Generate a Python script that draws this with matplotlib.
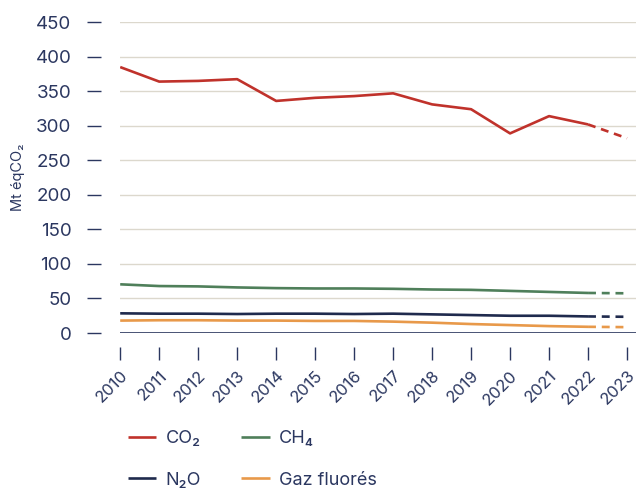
import matplotlib.pyplot as plt

years = list(range(2010, 2024))
co2 = [385, 364, 365, 367.5, 336, 340.5, 343, 347, 331, 324, 289, 314, 302, 282]
ch4 = [70.5, 68, 67.5, 66, 65, 64.5, 64.5, 64, 63, 62.5, 61, 59.5, 58, 57.5]
n2o = [28.5, 28, 28, 27.5, 28, 28, 27.5, 28, 27, 26, 25, 25, 24, 23.5]
fgaz = [18, 18.5, 18.5, 18, 18, 17.5, 17.5, 16.5, 15, 13, 11.5, 10, 9, 8.5]

series = [('CO₂', co2, '#c0322b'), ('CH₄', ch4, '#4f7f5a'),
          ('N₂O', n2o, '#1f2a4d'), ('Gaz fluorés', fgaz, '#e8994a')]

navy = '#2b3760'
plt.rcParams['font.family'] = ['Inter', 'DejaVu Sans']

fig = plt.figure(figsize=(6.36, 4.93), dpi=100)
ax = fig.add_axes([0.189, 0.3245, 0.811, 0.6305])

# spines moved first, since set_position resets the ticks
for s in ['top', 'right']:
    ax.spines[s].set_visible(False)
ax.spines['left'].set_position(('outward', 14))
ax.spines['bottom'].set_position(('outward', 10))
ax.spines['left'].set_visible(False)
ax.spines['bottom'].set_visible(False)

handles = {}
for name, vals, col in series:
    h, = ax.plot(years[:-1], vals[:-1], color=col, lw=1.9, label=name, solid_capstyle='butt')
    ax.plot(years[-2:], vals[-2:], color=col, lw=1.9, ls=(0, (3, 2.2)))
    handles[name] = h

ax.axhline(0, color=navy, lw=1.2, zorder=1)
ax.set_xlim(2010, 2023.23)
ax.set_ylim(0, 450)
ax.set_yticks(range(0, 451, 50))
ax.set_xticks(years)
ax.set_xticklabels([str(y) for y in years], rotation=45, ha='right', rotation_mode='anchor')
ax.yaxis.grid(True, color='#dcd8cd', lw=1)
ax.set_axisbelow(True)

ax.tick_params(axis='y', length=10, width=1, color=navy, labelcolor=navy, labelsize=13.5, pad=11)
ax.tick_params(axis='x', length=9, width=1, color=navy, labelcolor=navy, labelsize=12, pad=6)

ax.set_ylabel('Mt éqCO₂', color=navy, fontsize=10.5, labelpad=8)

# ncol fills column-wise: CO2/N2O first column, CH4/Gaz second
order = ['CO₂', 'N₂O', 'CH₄', 'Gaz fluorés']
fig.legend(handles=[handles[k] for k in order], loc='upper left', bbox_to_anchor=(0.175, 0.16), ncol=2,
           frameon=False, fontsize=13, labelcolor=navy, handlelength=1.6, handletextpad=0.5,
           columnspacing=2.2, labelspacing=1.35)

fig.savefig('out.png', dpi=100)
